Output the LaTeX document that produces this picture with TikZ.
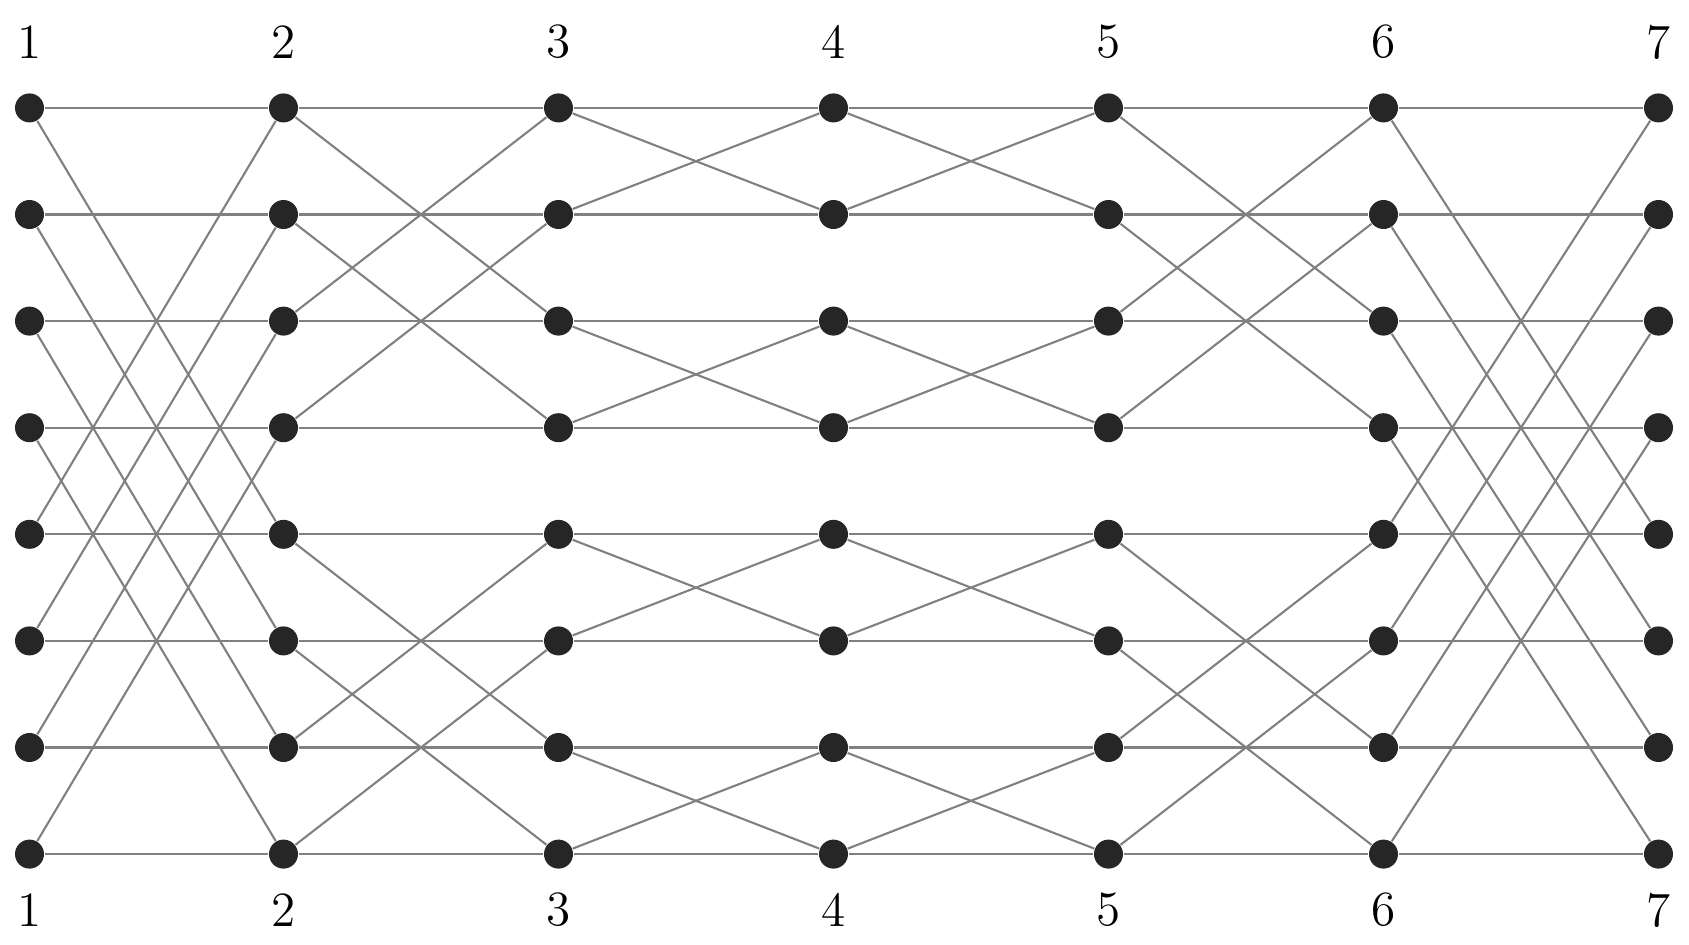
\documentclass[tikz,border=0pt]{standalone}
\usepackage{tikz}
\usetikzlibrary{matrix}

\tikzset{
    switchdot/.style={circle, fill=black!85, inner sep=0pt, minimum size=2.9mm},
    wire/.style={draw=black!50, line width=0.6pt},
    stagelabel/.style={font=\fontsize{14}{16}\selectfont, inner sep=1pt}
}

\begin{document}
\begin{tikzpicture}
    \useasboundingbox (0,0) rectangle (16.89,-9.44);

    % 8 x 7 grid of switches
    \matrix (m) [matrix of nodes, nodes in empty cells,
        nodes={switchdot},
        column sep={2.75cm,between origins},
        row sep={1.066cm,between origins}] at (8.44,-4.81) {
 &[-2.1mm] & & & & & \\
 & & & & & & \\
 & & & & & & \\
 & & & & & & \\
 & & & & & & \\
 & & & & & & \\
 & & & & & & \\
 & & & & & & \\
    };

    % stage numbers
    \foreach \c in {1,...,7} {
        \node[stagelabel] (top\c) [yshift=6.6mm] at (m-1-\c) {\c};
        \node[stagelabel] (bot\c) [yshift=-5.6mm] at (m-8-\c) {\c};
    }

    % straight and crossing wires, distance 4,2,1,1,2,4
    \foreach \c/\d in {1/4,2/2,3/1,4/1,5/2,6/4} {
        \pgfmathtruncatemacro\n{\c+1}
        \foreach \r in {1,...,8} {
            \pgfmathtruncatemacro\p{(mod(floor((\r-1)/\d),2)==0) ? (\r+\d) : (\r-\d)}
            \draw[wire] (m-\r-\c) -- (m-\r-\n);
            \draw[wire] (m-\r-\c) -- (m-\p-\n);
        }
    }
\end{tikzpicture}
\end{document}
